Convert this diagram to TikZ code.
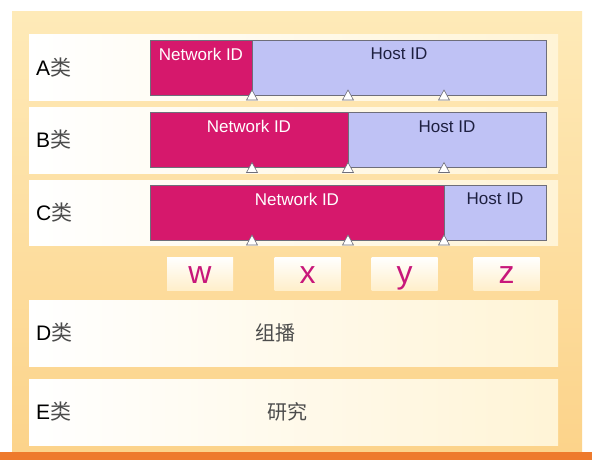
\documentclass[tikz,border=0pt]{standalone}
\usepackage{fontspec}
\setmainfont{Liberation Sans}
\newfontfamily\cjk{Noto Sans CJK SC}
\usepackage{xcolor}
\usetikzlibrary{positioning}
\definecolor{panelc}{HTML}{FCD38A}
\definecolor{panellc}{HTML}{FEEAB8}
\definecolor{rowc}{HTML}{FFF4D6}
\definecolor{netc}{HTML}{D6186C}
\definecolor{hostc}{HTML}{BFC2F5}
\definecolor{hosttextc}{HTML}{1E2040}
\definecolor{letterc}{HTML}{C8177A}
\definecolor{stripc}{HTML}{EE7A2C}
\definecolor{edgec}{HTML}{6E6E7A}
\tikzset{
  rowbox/.style={rectangle, inner sep=0pt, outer sep=0pt, left color=white, right color=rowc,
    minimum width=529pt, minimum height=65pt},
  netbox/.style={rectangle, inner sep=0pt, outer sep=0pt, draw=edgec, fill=netc,
    line width=0.8pt, minimum height=55pt},
  hostbox/.style={netbox, fill=hostc},
  nettext/.style={font=\fontsize{17}{17}\selectfont, text=white, inner sep=0pt},
  hosttext/.style={nettext, text=hosttextc},
  classtext/.style={font=\fontsize{21}{21}\selectfont, anchor=west, inner sep=0pt},
  cjktext/.style={font=\cjk\fontsize{20}{20}\selectfont, text=black!70, inner sep=0pt},
  letterbox/.style={rectangle, inner sep=0pt, top color=white, bottom color=rowc!85!panelc,
    minimum width=66pt, minimum height=33pt},
  lettertext/.style={font=\fontsize{32}{32}\selectfont, text=letterc, inner sep=0pt, anchor=base},
  marker/.style={fill=white, draw=edgec, line width=0.6pt},
}
\newcommand{\lei}{{\cjk\color{black!70}类}}

\begin{document}
\begin{tikzpicture}[x=1pt, y=-1pt]
  \useasboundingbox (0,0) rectangle (592,460);
  \fill[white] (0,0) rectangle (592,460);
  % orange panel and bottom strip
  \shade[top color=panellc, bottom color=panelc] (12,12) rectangle (582,452);
  \fill[stripc] (0,452) rectangle (592,460);

  % class rows
  \node[rowbox] (rowA) at (293.5,67.5) {};
  \node[rowbox, minimum height=66pt] (rowB) at (293.5,140) {};
  \node[rowbox] (rowC) at (293.5,212.5) {};
  \node[rowbox, minimum height=66pt] (rowD) at (293.5,333) {};
  \node[rowbox, minimum height=66pt] (rowE) at (293.5,412) {};

  \node[classtext] (labA) at (36,67.5) {A\lei};
  \node[classtext] (labB) at (36,140) {B\lei};
  \node[classtext] (labC) at (36,212.5) {C\lei};
  \node[classtext] (labD) at (36,333) {D\lei};
  \node[classtext] (labE) at (36,412) {E\lei};

  % address layouts
  \node[netbox, minimum width=102pt] (netA) at (201,67.5) {};
  \node[hostbox, minimum width=294pt, right=0pt of netA] (hostA) {};
  \node[netbox, minimum width=198pt] (netB) at (249,140) {};
  \node[hostbox, minimum width=198pt, right=0pt of netB] (hostB) {};
  \node[netbox, minimum width=294pt] (netC) at (297,212.5) {};
  \node[hostbox, minimum width=102pt, right=0pt of netC] (hostC) {};

  \node[nettext] at ([yshift=-14pt]netA.north) {Network ID};
  \node[hosttext] at ([yshift=-14pt]hostA.north) {Host ID};
  \node[nettext] at ([yshift=-14pt]netB.north) {Network ID};
  \node[hosttext] at ([yshift=-14pt]hostB.north) {Host ID};
  \node[nettext] at ([yshift=-14pt]netC.north) {Network ID};
  \node[hosttext] at ([yshift=-14pt]hostC.north) {Host ID};

  % byte markers
  \foreach \x in {252,348,444}
    \foreach \y in {95,167.5,240}
      \draw[marker] ({\x},{\y-5}) -- ({\x+5.5},{\y+5}) -- ({\x-5.5},{\y+5}) -- cycle;

  % byte letters
  \node[letterbox] (boxw) at (200,273.5) {};
  \node[letterbox] (boxx) at (307.5,273.5) {};
  \node[letterbox] (boxy) at (404.5,273.5) {};
  \node[letterbox] (boxz) at (506.5,273.5) {};
  \node[lettertext] at ([yshift=6.5pt]boxw.south) {w};
  \node[lettertext] at ([yshift=6.5pt]boxx.south) {x};
  \node[lettertext] at ([yshift=6.5pt]boxy.south) {y};
  \node[lettertext] at ([yshift=6.5pt]boxz.south) {z};

  \node[cjktext] (multi) at (275,333) {组播};
  \node[cjktext] (research) at (287,412) {研究};
\end{tikzpicture}
\end{document}
